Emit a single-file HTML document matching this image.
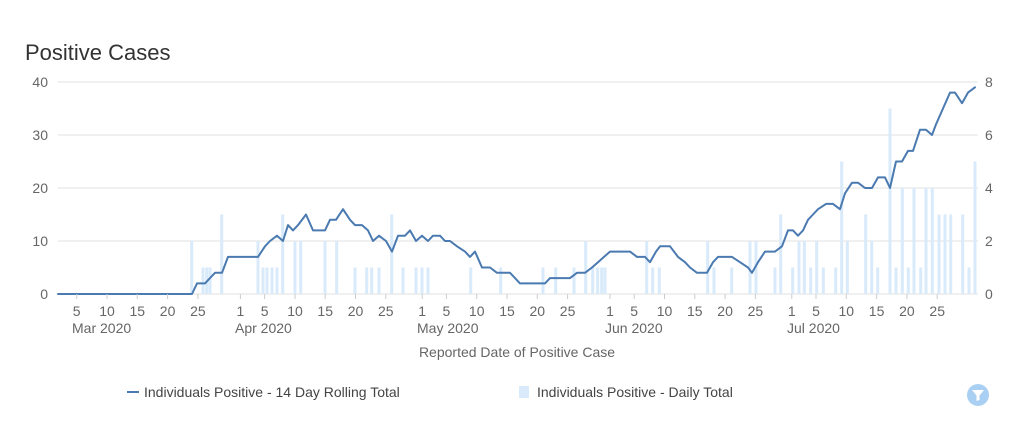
<!DOCTYPE html>
<html><head><style>
body{margin:0;background:#fff;}
svg text{font-family:"Liberation Sans",sans-serif;}
</style></head><body>
<svg width="1022" height="437" xmlns="http://www.w3.org/2000/svg">
<rect width="1022" height="437" fill="#fff"/>
<text x="25" y="60" font-size="22" fill="#333">Positive Cases</text>
<g stroke="#e0e0e0" stroke-width="1">
<line x1="58" y1="82" x2="978" y2="82"/><line x1="58" y1="135" x2="978" y2="135"/>
<line x1="58" y1="188" x2="978" y2="188"/><line x1="58" y1="241" x2="978" y2="241"/>
<line x1="58" y1="294" x2="978" y2="294"/>
</g>
<g font-size="14" fill="#666" text-anchor="end">
<text x="48" y="87">40</text><text x="48" y="140">30</text><text x="48" y="193">20</text><text x="48" y="246">10</text><text x="48" y="299">0</text>
</g>
<g font-size="14" fill="#666" text-anchor="start">
<text x="985" y="87">8</text><text x="985" y="140">6</text><text x="985" y="193">4</text><text x="985" y="246">2</text><text x="985" y="299">0</text>
</g>
<g fill="#d9eafb">
<rect x="190.2" y="241" width="3" height="53"/><rect x="201.5" y="267.5" width="3" height="26.5"/><rect x="205.2" y="267.5" width="3" height="26.5"/><rect x="208.5" y="267.5" width="3" height="26.5"/><rect x="220.2" y="214.5" width="3" height="79.5"/>
<rect x="256.5" y="241" width="3" height="53"/><rect x="261.5" y="267.5" width="3" height="26.5"/><rect x="265.5" y="267.5" width="3" height="26.5"/><rect x="270.5" y="267.5" width="3" height="26.5"/><rect x="275.5" y="267.5" width="3" height="26.5"/><rect x="281.2" y="214.5" width="3" height="79.5"/><rect x="293.5" y="241" width="3" height="53"/><rect x="299.2" y="241" width="3" height="53"/><rect x="323.5" y="241" width="3" height="53"/><rect x="335.2" y="241" width="3" height="53"/>
<rect x="353.5" y="267.5" width="3" height="26.5"/><rect x="365.2" y="267.5" width="3" height="26.5"/><rect x="370.2" y="267.5" width="3" height="26.5"/><rect x="377.5" y="267.5" width="3" height="26.5"/><rect x="390.2" y="214.5" width="3" height="79.5"/><rect x="401.5" y="267.5" width="3" height="26.5"/><rect x="414.5" y="267.5" width="3" height="26.5"/><rect x="420.5" y="267.5" width="3" height="26.5"/><rect x="426.5" y="267.5" width="3" height="26.5"/>
<rect x="469.2" y="267.5" width="3" height="26.5"/><rect x="499.2" y="267.5" width="3" height="26.5"/><rect x="541.5" y="267.5" width="3" height="26.5"/><rect x="554.2" y="267.5" width="3" height="26.5"/><rect x="572.5" y="267.5" width="3" height="26.5"/><rect x="584.2" y="241" width="3" height="53"/><rect x="591.2" y="267.5" width="3" height="26.5"/><rect x="596.2" y="267.5" width="3" height="26.5"/><rect x="600.2" y="267.5" width="3" height="26.5"/><rect x="603.5" y="267.5" width="3" height="26.5"/>
<rect x="645.2" y="241" width="3" height="53"/><rect x="651.2" y="267.5" width="3" height="26.5"/><rect x="657.8" y="267.5" width="3" height="26.5"/><rect x="706.2" y="241" width="3" height="53"/><rect x="712.5" y="267.5" width="3" height="26.5"/><rect x="730.2" y="267.5" width="3" height="26.5"/><rect x="748.5" y="241" width="3" height="53"/><rect x="754.5" y="241" width="3" height="53"/><rect x="773.5" y="267.5" width="3" height="26.5"/><rect x="779.2" y="214.5" width="3" height="79.5"/>
<rect x="791.2" y="267.5" width="3" height="26.5"/><rect x="797.5" y="241" width="3" height="53"/><rect x="802.8" y="241" width="3" height="53"/><rect x="809.2" y="267.5" width="3" height="26.5"/><rect x="815.2" y="241" width="3" height="53"/><rect x="821.8" y="267.5" width="3" height="26.5"/><rect x="834.2" y="267.5" width="3" height="26.5"/><rect x="840.2" y="161.5" width="3" height="132.5"/><rect x="845.8" y="241" width="3" height="53"/>
<rect x="864.2" y="214.5" width="3" height="79.5"/><rect x="870.2" y="241" width="3" height="53"/><rect x="876.2" y="267.5" width="3" height="26.5"/><rect x="888.5" y="108.5" width="3" height="185.5"/><rect x="894.5" y="267.5" width="3" height="26.5"/><rect x="900.8" y="188" width="3" height="106"/><rect x="906.8" y="267.5" width="3" height="26.5"/><rect x="912.5" y="188" width="3" height="106"/><rect x="919.2" y="267.5" width="3" height="26.5"/><rect x="924.5" y="188" width="3" height="106"/><rect x="930.8" y="188" width="3" height="106"/><rect x="937.5" y="214.5" width="3" height="79.5"/><rect x="943.5" y="214.5" width="3" height="79.5"/><rect x="949.2" y="214.5" width="3" height="79.5"/><rect x="961.2" y="214.5" width="3" height="79.5"/><rect x="967.5" y="267.5" width="3" height="26.5"/><rect x="973.5" y="161.5" width="3" height="132.5"/>
</g>
<polyline fill="none" stroke="#4a7ab0" stroke-width="2" stroke-linejoin="round" stroke-linecap="round" points="
58,294 192,294 197,283.4 205,283.4 210,278.1 215,272.8 222,272.8 228,256.9 258,256.9 265,246.3 270,241 277,235.7 283,241 288,225.1 293,230.4 298,225.1 306,214.5 313,230.4 325,230.4 330,219.8 336,219.8 343,209.2 350,219.8 355,225.1 362,225.1 368,230.4 373,241 379,235.7 386,241 392,251.6 398,235.7 405,235.7 410,230.4 416,241 422,235.7 428,241 433,235.7 440,235.7 445,241 450,241 457,246.3 465,251.6 470,256.9 475,251.6 482,267.5 490,267.5 497,272.8 510,272.8 515,278.1 520,283.4 545,283.4 550,278.1 570,278.1 577,272.8 585,272.8 592,267.5 598,262.2 604,256.9 610,251.6 630,251.6 637,256.9 645,256.9 650,262.2 656,251.6 660,246.3 670,246.3 678,256.9 685,262.2 690,267.5 697,272.8 707,272.8 713,262.2 718,256.9 732,256.9 740,262.2 748,267.5 752,272.8 758,262.2 765,251.6 775,251.6 782,246.3 788,230.4 793,230.4 798,235.7 803,230.4 808,219.8 813,214.5 818,209.2 826,203.9 833,203.9 840,209.2 845,193.3 852,182.7 858,182.7 865,188 872,188 878,177.4 885,177.4 890,188 896,161.5 902,161.5 908,150.9 913,150.9 920,129.7 926,129.7 932,135 936,124.4 943,108.5 950,92.6 955,92.6 962,103.2 968,92.6 975,87.3"/>
<g stroke="#ccc" stroke-width="1">
<line x1="76.7" y1="294" x2="76.7" y2="299"/><line x1="107" y1="294" x2="107" y2="299"/><line x1="137.3" y1="294" x2="137.3" y2="299"/><line x1="167.6" y1="294" x2="167.6" y2="299"/><line x1="197.9" y1="294" x2="197.9" y2="299"/>
<line x1="240.4" y1="294" x2="240.4" y2="299"/><line x1="264.6" y1="294" x2="264.6" y2="299"/><line x1="295" y1="294" x2="295" y2="299"/><line x1="325.2" y1="294" x2="325.2" y2="299"/><line x1="355.5" y1="294" x2="355.5" y2="299"/><line x1="385.8" y1="294" x2="385.8" y2="299"/>
<line x1="422.2" y1="294" x2="422.2" y2="299"/><line x1="446.4" y1="294" x2="446.4" y2="299"/><line x1="476.7" y1="294" x2="476.7" y2="299"/><line x1="507" y1="294" x2="507" y2="299"/><line x1="537.3" y1="294" x2="537.3" y2="299"/><line x1="567.6" y1="294" x2="567.6" y2="299"/>
<line x1="610" y1="294" x2="610" y2="299"/><line x1="634.2" y1="294" x2="634.2" y2="299"/><line x1="664.5" y1="294" x2="664.5" y2="299"/><line x1="694.8" y1="294" x2="694.8" y2="299"/><line x1="725.1" y1="294" x2="725.1" y2="299"/><line x1="755.4" y1="294" x2="755.4" y2="299"/>
<line x1="791.8" y1="294" x2="791.8" y2="299"/><line x1="816" y1="294" x2="816" y2="299"/><line x1="846.3" y1="294" x2="846.3" y2="299"/><line x1="876.6" y1="294" x2="876.6" y2="299"/><line x1="906.9" y1="294" x2="906.9" y2="299"/><line x1="937.2" y1="294" x2="937.2" y2="299"/>
</g>
<g font-size="14" fill="#666" text-anchor="middle">
<text x="76.7" y="316">5</text><text x="107" y="316">10</text><text x="137.3" y="316">15</text><text x="167.6" y="316">20</text><text x="197.9" y="316">25</text>
<text x="240.4" y="316">1</text><text x="264.6" y="316">5</text><text x="295" y="316">10</text><text x="325.2" y="316">15</text><text x="355.5" y="316">20</text><text x="385.8" y="316">25</text>
<text x="422.2" y="316">1</text><text x="446.4" y="316">5</text><text x="476.7" y="316">10</text><text x="507" y="316">15</text><text x="537.3" y="316">20</text><text x="567.6" y="316">25</text>
<text x="610" y="316">1</text><text x="634.2" y="316">5</text><text x="664.5" y="316">10</text><text x="694.8" y="316">15</text><text x="725.1" y="316">20</text><text x="755.4" y="316">25</text>
<text x="791.8" y="316">1</text><text x="816" y="316">5</text><text x="846.3" y="316">10</text><text x="876.6" y="316">15</text><text x="906.9" y="316">20</text><text x="937.2" y="316">25</text>
</g>
<g font-size="14" fill="#666">
<text x="72" y="333">Mar 2020</text><text x="235" y="333">Apr 2020</text><text x="417" y="333">May 2020</text><text x="605" y="333">Jun 2020</text><text x="787" y="333">Jul 2020</text>
</g>
<text x="517" y="357" font-size="14" fill="#666" text-anchor="middle">Reported Date of Positive Case</text>
<line x1="127" y1="392" x2="139" y2="392" stroke="#4a7ab0" stroke-width="2"/>
<text x="144" y="397" font-size="14" fill="#444">Individuals Positive - 14 Day Rolling Total</text>
<rect x="519" y="386" width="10" height="12" fill="#d9eafb"/>
<text x="537" y="397" font-size="14" fill="#444">Individuals Positive - Daily Total</text>
<circle cx="978" cy="395" r="11" fill="#a9d0f2"/>
<path d="M972,390 L984,390 L979.5,395.5 L979.5,400 L976.5,401 L976.5,395.5 Z" fill="#fff"/>
</svg>
</body></html>
